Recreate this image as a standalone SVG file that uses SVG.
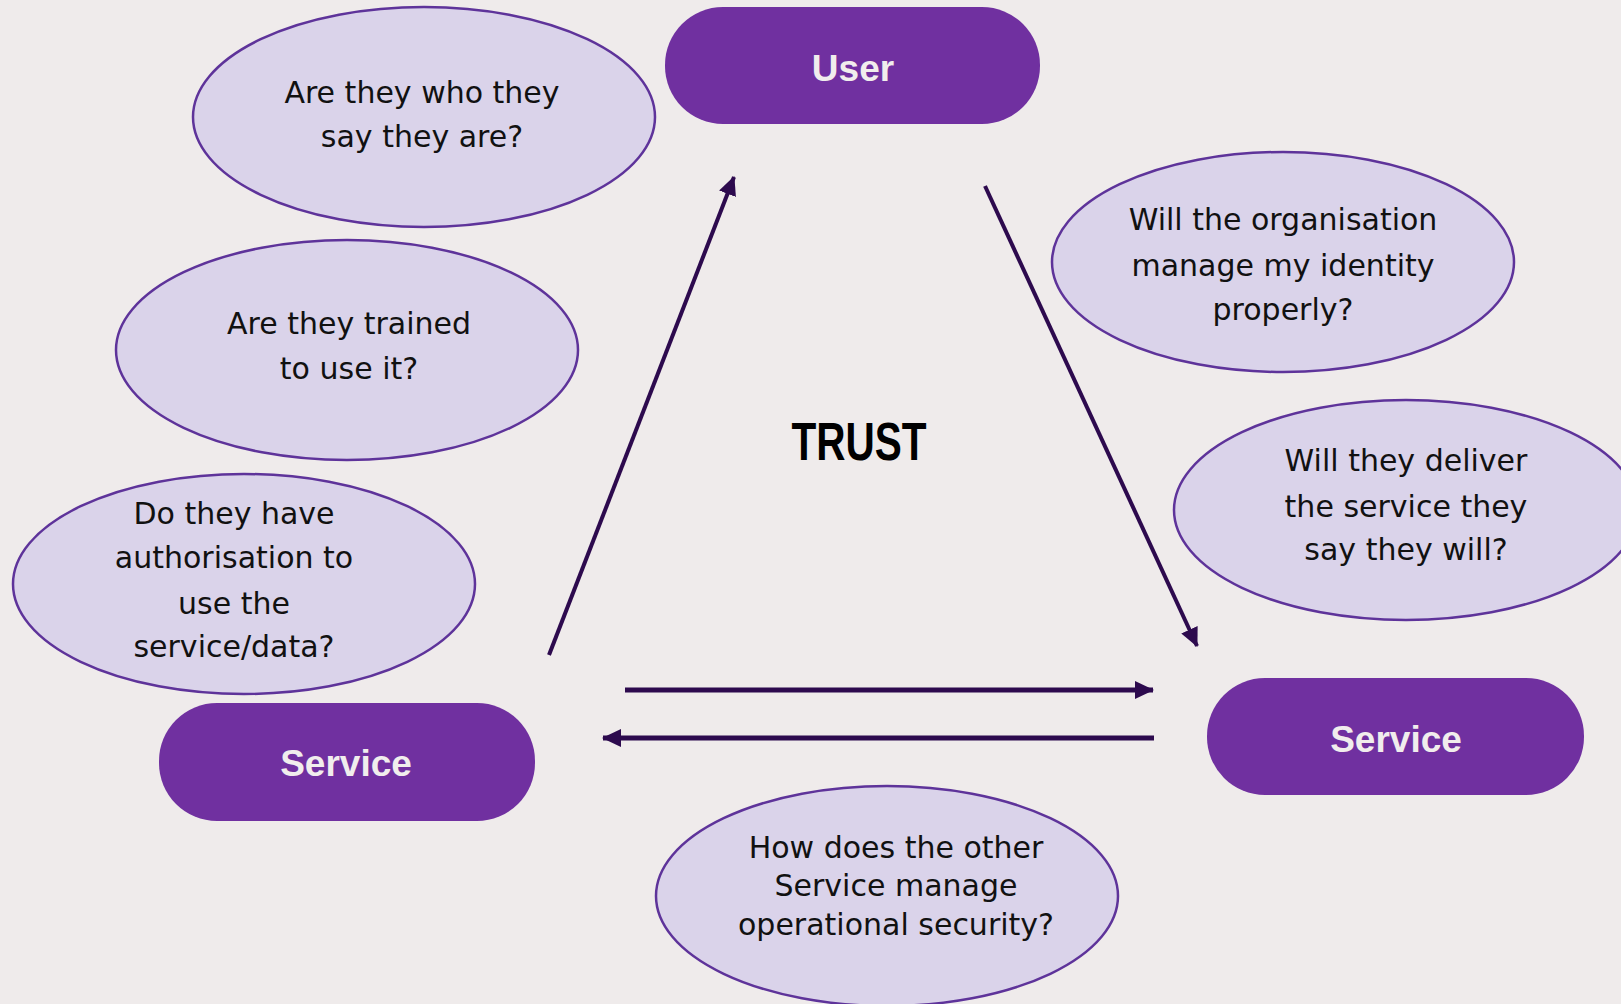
<svg xmlns="http://www.w3.org/2000/svg" width="1621" height="1004" viewBox="0 0 1621 1004">
<defs>
<style>
.bg{fill:#EFEBEB}
.q{fill:#DAD3EA;stroke:#5E339A;stroke-width:2.5}
.qt{font-family:"DejaVu Sans","Liberation Sans",Arial,sans-serif;font-size:30px;fill:#111111;text-anchor:middle}
.pill{fill:#7030A0}
.pt{font-family:"Liberation Sans",Arial,sans-serif;font-size:37px;font-weight:bold;fill:#F1EDED;text-anchor:middle}
.trust{font-family:"Liberation Sans",Arial,sans-serif;font-size:53px;font-weight:bold;fill:#000000;text-anchor:middle}
.ar{stroke:#2D0A4E;fill:none}
</style>
<marker id="ah" markerUnits="userSpaceOnUse" markerWidth="20" markerHeight="20" viewBox="0 0 20 20" refX="18" refY="10" orient="auto">
<path d="M0,1 L19,10 L0,19 Z" fill="#2D0A4E"/>
</marker>
</defs>
<rect class="bg" x="0" y="0" width="1621" height="1004"/>

<g id="q-who">
<ellipse class="q" cx="424" cy="117" rx="231" ry="110"/>
<text class="qt" x="422" y="103">Are they who they</text>
<text class="qt" x="422" y="147">say they are?</text>
</g>
<g id="q-trained">
<ellipse class="q" cx="347" cy="350" rx="231" ry="110"/>
<text class="qt" x="349" y="334">Are they trained</text>
<text class="qt" x="349" y="379">to use it?</text>
</g>
<g id="q-auth">
<ellipse class="q" cx="244" cy="584" rx="231" ry="110"/>
<text class="qt" x="234" y="524">Do they have</text>
<text class="qt" x="234" y="568">authorisation to</text>
<text class="qt" x="234" y="614">use the</text>
<text class="qt" x="234" y="657">service/data?</text>
</g>
<g id="q-identity">
<ellipse class="q" cx="1283" cy="262" rx="231" ry="110"/>
<text class="qt" x="1283" y="230">Will the organisation</text>
<text class="qt" x="1283" y="276">manage my identity</text>
<text class="qt" x="1283" y="320">properly?</text>
</g>
<g id="q-deliver">
<ellipse class="q" cx="1406" cy="510" rx="232" ry="110"/>
<text class="qt" x="1406" y="471">Will they deliver</text>
<text class="qt" x="1406" y="517">the service they</text>
<text class="qt" x="1406" y="560">say they will?</text>
</g>
<g id="q-opsec">
<ellipse class="q" cx="887" cy="896" rx="231" ry="110"/>
<text class="qt" x="896" y="858">How does the other</text>
<text class="qt" x="896" y="896">Service manage</text>
<text class="qt" x="896" y="935">operational security?</text>
</g>

<g id="user">
<rect class="pill" x="665" y="7" width="375" height="117" rx="58" ry="58"/>
<text class="pt" x="853" y="81">User</text>
</g>
<g id="service-left">
<rect class="pill" x="159" y="703" width="376" height="118" rx="58" ry="58"/>
<text class="pt" x="346" y="776">Service</text>
</g>
<g id="service-right">
<rect class="pill" x="1207" y="678" width="377" height="117" rx="58" ry="58"/>
<text class="pt" x="1396" y="752">Service</text>
</g>

<g id="trust">
<text class="trust" x="859" y="460" textLength="135" lengthAdjust="spacingAndGlyphs">TRUST</text>
</g>

<g id="connectors">
<line class="ar" x1="549" y1="655" x2="734" y2="177" stroke-width="4" marker-end="url(#ah)"/>
<line class="ar" x1="985" y1="186" x2="1197" y2="646" stroke-width="4" marker-end="url(#ah)"/>
<line class="ar" x1="625" y1="690" x2="1153" y2="690" stroke-width="5" marker-end="url(#ah)"/>
<line class="ar" x1="1154" y1="738" x2="603" y2="738" stroke-width="5" marker-end="url(#ah)"/>
</g>
</svg>
